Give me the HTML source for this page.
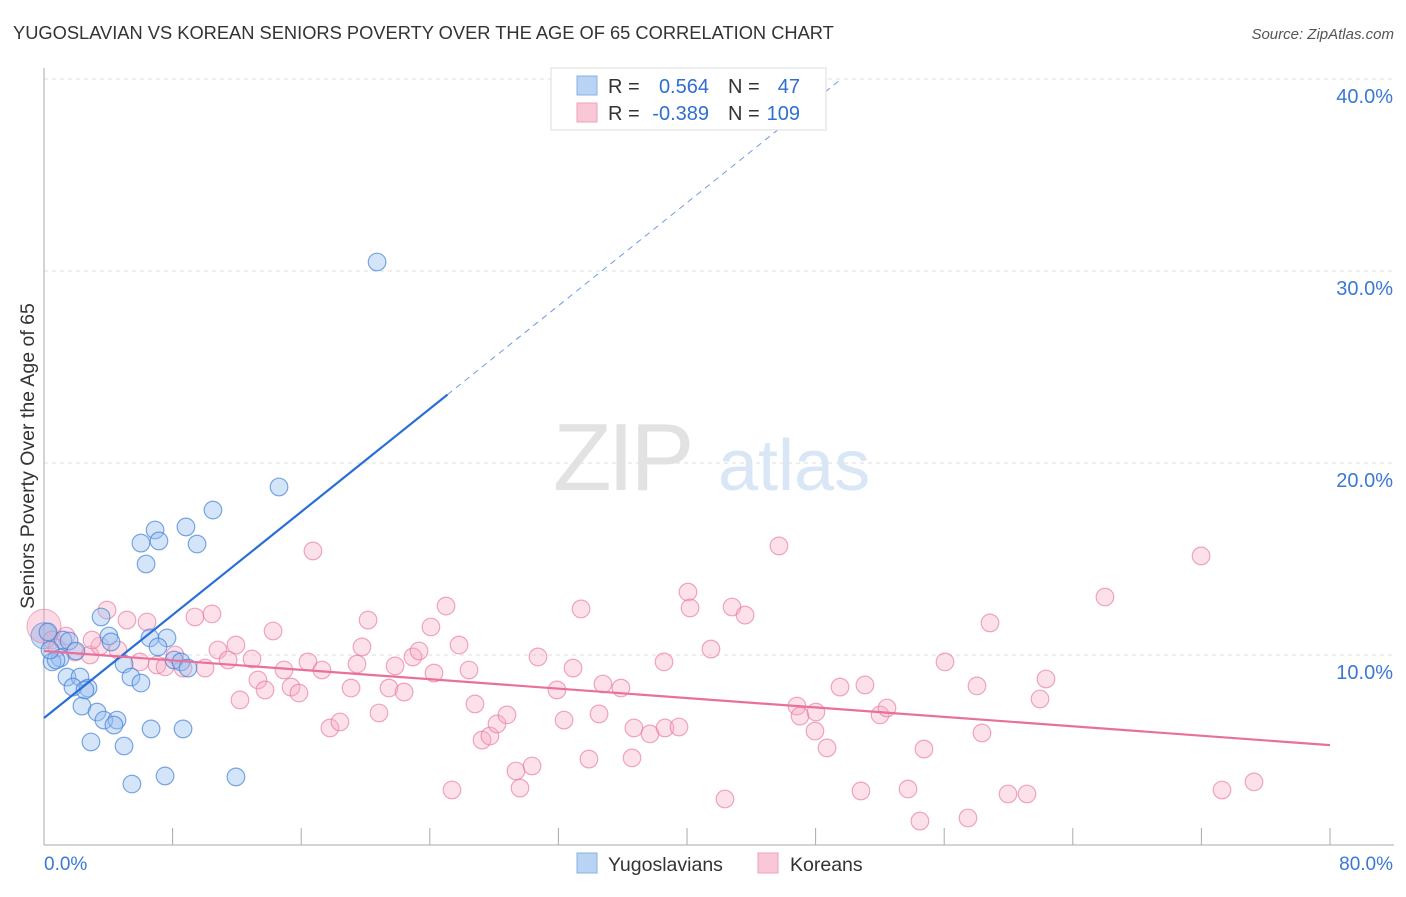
<!DOCTYPE html>
<html><head><meta charset="utf-8"><style>
body{margin:0;background:#fff;font-family:"Liberation Sans",sans-serif;}
svg text{font-family:"Liberation Sans",sans-serif;}
</style></head><body>
<svg id="chart" width="1406" height="892" xmlns="http://www.w3.org/2000/svg">
<text x="13" y="39" font-size="18.3" fill="#333">YUGOSLAVIAN VS KOREAN SENIORS POVERTY OVER THE AGE OF 65 CORRELATION CHART</text>
<text x="1394" y="39" font-size="15" fill="#555" font-style="italic" text-anchor="end">Source: ZipAtlas.com</text>
<text transform="translate(34,456) rotate(-90)" font-size="19.5" fill="#333" text-anchor="middle">Seniors Poverty Over the Age of 65</text>
<g id="grid"></g>
<text x="553" y="490" font-size="96" fill="#e2e2e2" font-family="Liberation Serif" letter-spacing="-4">ZIP</text>
<text x="718" y="490" font-size="72" fill="#d9e6f6">atlas</text>
<g id="pts"></g>
<g id="lines"></g>
<g>
<rect x="551" y="68" width="275" height="62" fill="#fff" stroke="#ddd"/>
<rect x="577" y="76" width="20" height="19" fill="#b9d3f5" stroke="#8ab0e0"/>
<rect x="577" y="103" width="20" height="19" fill="#f9c7d6" stroke="#eea3bb"/>
<text x="608" y="93" font-size="20" fill="#333">R =</text>
<text x="709" y="93" font-size="20" fill="#2f6fd0" text-anchor="end">0.564</text>
<text x="728" y="93" font-size="20" fill="#333">N =</text>
<text x="800" y="93" font-size="20" fill="#2f6fd0" text-anchor="end">47</text>
<text x="608" y="120" font-size="20" fill="#333">R =</text>
<text x="709" y="120" font-size="20" fill="#2f6fd0" text-anchor="end">-0.389</text>
<text x="728" y="120" font-size="20" fill="#333">N =</text>
<text x="800" y="120" font-size="20" fill="#2f6fd0" text-anchor="end">109</text>
</g>
<g>
<rect x="577" y="853" width="20" height="20" fill="#b9d3f5" stroke="#8ab0e0"/>
<text x="608" y="871" font-size="19.5" fill="#333">Yugoslavians</text>
<rect x="758" y="853" width="20" height="20" fill="#f9c7d6" stroke="#eea3bb"/>
<text x="790" y="871" font-size="19.5" fill="#333">Koreans</text>
</g>
</svg>
<script>
const yTicks=[10,20,30,40];
const xLabels=["0.0%","80.0%"];
const bluePx=[[377,262],[279,487],[213,510],[186,527],[155,530],[159,541],[141,543],[197,544],[146,564],[101,617],[109,636],[167,638],[150,638],[111,642],[63,640],[69,641],[48,632],[76,651],[158,647],[60,658],[52,662],[56,660],[174,660],[181,662],[188,668],[124,664],[131,677],[141,683],[67,677],[80,677],[73,687],[88,688],[82,706],[97,712],[104,720],[117,720],[114,725],[91,742],[124,746],[151,729],[183,729],[165,776],[236,777],[132,784],[50,650],[85,690]];
const pinkPx=[[52,640],[66,636],[57,648],[75,652],[90,655],[100,646],[92,640],[107,610],[118,650],[127,620],[140,662],[147,622],[157,665],[165,667],[175,655],[183,668],[195,617],[205,668],[212,614],[218,650],[228,660],[236,645],[240,700],[252,659],[258,680],[265,690],[273,631],[284,670],[291,687],[299,693],[313,551],[308,662],[322,670],[330,728],[340,722],[351,688],[357,664],[362,647],[368,620],[379,713],[389,688],[395,666],[404,692],[413,657],[419,651],[431,627],[434,673],[446,606],[459,645],[469,670],[475,704],[482,740],[490,736],[497,724],[507,715],[452,790],[516,771],[520,788],[532,766],[538,657],[557,690],[564,720],[573,668],[581,609],[589,759],[599,714],[603,684],[621,688],[632,758],[634,728],[650,734],[664,662],[665,728],[679,727],[688,592],[690,608],[711,649],[725,799],[732,607],[745,615],[779,546],[797,706],[800,716],[816,712],[815,731],[827,748],[840,687],[861,791],[865,685],[880,715],[887,708],[908,789],[920,821],[924,749],[945,662],[968,818],[977,686],[982,733],[990,623],[1008,794],[1027,794],[1040,699],[1046,679],[1105,597],[1201,556],[1222,790],[1254,782]];
const X=v=>44+v*16.075, Y=v=>847-v*19.2;
const blueX=bluePx.map(p=>+((p[0]-44)/16.075).toFixed(2)), blueY=bluePx.map(p=>+((847-p[1])/19.2).toFixed(2));
const pinkX=pinkPx.map(p=>+((p[0]-44)/16.075).toFixed(2)), pinkY=pinkPx.map(p=>+((847-p[1])/19.2).toFixed(2));
const blueTrend=[6.72,0.671], pinkTrend=[10.21,-0.0613];
const NS="http://www.w3.org/2000/svg";
function mk(t,a,parent){const e=document.createElementNS(NS,t);for(const k in a)e.setAttribute(k,a[k]);parent.appendChild(e);return e;}
const grid=document.getElementById('grid');
yTicks.forEach(t=>{
 const l=mk('line',{x1:44,x2:1394,y1:Y(t),y2:Y(t),stroke:'#ddd','stroke-dasharray':'4,4'},grid);
 
 
 const tx=mk('text',{x:1393,y:Y(t)+24,'font-size':20,fill:'#3a78d6','text-anchor':'end'},grid);
 tx.textContent=t.toFixed(1)+'%';
 
 
});
const ax=mk('line',{x1:44,x2:44,y1:68,y2:845,stroke:'#aaa'},grid);


const bx=mk('line',{x1:44,x2:1394,y1:845,y2:845,stroke:'#aaa'},grid);


for(let i=0;i<=80;i+=8){const t=mk('line',{x1:X(i),x2:X(i),y1:828,y2:845,stroke:'#aaa'},grid);
 
 }
[[0,'start',44],[80,'end',1393]].forEach((d,i)=>{const t=mk('text',{x:d[2],y:870,'font-size':19,fill:'#3a78d6','text-anchor':d[1]},grid);t.textContent=xLabels[i];
 
 });
const pts=document.getElementById('pts');
mk('circle',{cx:X(0),cy:Y(11.5),r:17,fill:'rgba(244,150,180,0.35)',stroke:'rgba(230,120,160,0.6)'},pts);
mk('circle',{cx:X(0),cy:Y(11),r:13,fill:'rgba(140,170,230,0.4)',stroke:'rgba(80,130,210,0.6)'},pts);
pinkX.forEach((x,i)=>{const c=mk('circle',{cx:X(x),cy:Y(pinkY[i]),r:8.8,fill:'rgba(248,170,195,0.35)',stroke:'rgba(232,120,160,0.65)','stroke-width':1.2},pts);
 
 });
blueX.forEach((x,i)=>{const c=mk('circle',{cx:X(x),cy:Y(blueY[i]),r:8.8,fill:'rgba(150,190,240,0.4)',stroke:'rgba(70,130,215,0.7)','stroke-width':1.2},pts);
 
 });
const L=document.getElementById('lines');
const bt=x=>blueTrend[0]+blueTrend[1]*x, pt=x=>pinkTrend[0]+pinkTrend[1]*x;
const b1=mk('line',{x1:X(0),y1:Y(bt(0)),x2:X(25.1),y2:Y(bt(25.1)),stroke:'#2a6fd6','stroke-width':2.2},L);


const b2=mk('line',{x1:X(25.1),y1:Y(bt(25.1)),x2:X(49.5),y2:Y(bt(49.5)),stroke:'#6f9be0','stroke-width':1,'stroke-dasharray':'6,5'},L);


const p1=mk('line',{x1:X(0),y1:Y(pt(0)),x2:X(80),y2:Y(pt(80)),stroke:'#e8709a','stroke-width':2.2},L);


</script>
</body></html>
